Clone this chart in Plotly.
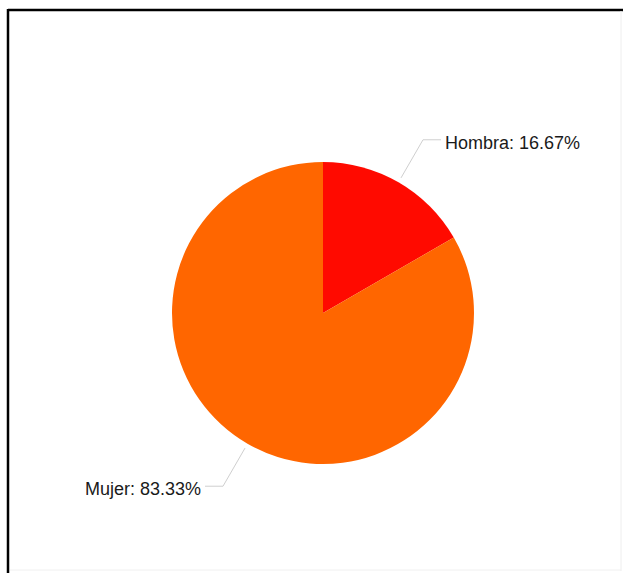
import math
import plotly.graph_objects as go

# Distribución por sexo
labels = ["Hombra", "Mujer"]
values = [1, 5]
colors = ["#ff0a00", "#ff6600"]

W, H = 623, 573
cx, cy, r = 323, 313, 151  # pie centre and radius in pixels


def px(x):
    return x / W


def py(y):
    return 1 - y / H


fig = go.Figure(
    go.Pie(
        labels=labels,
        values=values,
        sort=False,
        direction="clockwise",
        rotation=0,
        textinfo="none",
        hoverinfo="label+percent",
        marker=dict(colors=colors, line=dict(width=0)),
        domain=dict(x=[px(cx - r), px(cx + r)], y=[py(cy + r), py(cy - r)]),
        showlegend=False,
    )
)

shapes = []
annotations = []
total = sum(values)
cum = 0.0
for lab, v in zip(labels, values):
    frac = v / total
    mid = (cum + frac / 2) * 2 * math.pi  # clockwise from 12 o'clock
    cum += frac
    sx, sy = cx + (r + 5) * math.sin(mid), cy - (r + 5) * math.cos(mid)
    ex, ey = cx + (r + 49) * math.sin(mid), cy - (r + 49) * math.cos(mid)
    right = math.sin(mid) >= 0
    hx = ex + (18 if right else -18)
    shapes.append(dict(
        type="path", xref="paper", yref="paper",
        path=f"M {px(sx)} {py(sy)} L {px(ex)} {py(ey)} L {px(hx)} {py(ey)}",
        line=dict(color="#cfcfcf", width=1),
    ))
    annotations.append(dict(
        x=px(hx + (2 if right else -2)), y=py(ey + 3), xref="paper", yref="paper",
        text=f"{lab}: {frac * 100:.2f}%", showarrow=False,
        xanchor="left" if right else "right", yanchor="middle",
        font=dict(family="Liberation Sans, Arial, sans-serif", size=18, color="#1a1a1a"),
    ))

# Frame around the chart
shapes += [
    dict(type="line", xref="paper", yref="paper", x0=px(8), x1=px(W), y0=py(10), y1=py(10),
         line=dict(color="#000000", width=2.5)),
    dict(type="line", xref="paper", yref="paper", x0=px(8), x1=px(8), y0=py(9), y1=py(H),
         line=dict(color="#000000", width=2.5)),
    dict(type="line", xref="paper", yref="paper", x0=px(621), x1=px(621), y0=py(11), y1=py(571),
         line=dict(color="#eeeeee", width=1)),
    dict(type="line", xref="paper", yref="paper", x0=px(10), x1=px(621), y0=py(570), y1=py(570),
         line=dict(color="#f0f0f0", width=1)),
]

fig.update_layout(
    width=W, height=H,
    margin=dict(l=0, r=0, t=0, b=0),
    paper_bgcolor="white", plot_bgcolor="white",
    shapes=shapes, annotations=annotations,
)

fig.write_html("out.html", include_plotlyjs=True, config={"displayModeBar": False})
